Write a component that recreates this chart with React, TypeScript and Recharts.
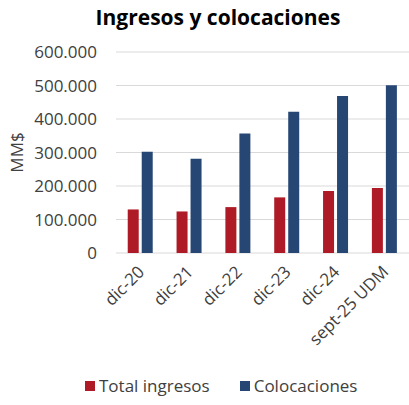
import React from "react";
import { BarChart, Bar, XAxis, YAxis, CartesianGrid, Legend } from "recharts";

const periods = ["dic-20", "dic-21", "dic-22", "dic-23", "dic-24", "sept-25 UDM"];
const totalIngresos = [130000, 124000, 137000, 166000, 185000, 194000];
const colocaciones = [302000, 281000, 357000, 422000, 469000, 501000];
const yTicks = [0, 100000, 200000, 300000, 400000, 500000, 600000];
const seriesNames = ["Total ingresos", "Colocaciones"];

const data = periods.map((p, i) => ({
  period: p,
  ingresos: totalIngresos[i],
  colocaciones: colocaciones[i],
}));

const FONT = "'Open Sans', sans-serif";
const RED = "#AE1A26";
const BLUE = "#264674";
const TEXT = "#404040";

const fmt = (v: number) => v.toLocaleString("de-DE");

function XTick({ x, y, payload }: any) {
  return (
    <g transform={`translate(${x + 5},${y + 12})`}>
      <text
        textAnchor="end"
        transform="rotate(-45)"
        fill={TEXT}
        fontSize={17}
        fontFamily={FONT}
      >
        {payload.value}
      </text>
    </g>
  );
}

function YLabel({ viewBox }: any) {
  const cy = viewBox.y + viewBox.height / 2;
  return (
    <text
      x={16}
      y={cy}
      transform={`rotate(-90, 16, ${cy})`}
      textAnchor="middle"
      dominantBaseline="central"
      fill={TEXT}
      fontSize={17}
      fontFamily={FONT}
    >
      MM$
    </text>
  );
}

function LegendContent({ payload }: any) {
  const items = seriesNames
    .map((n) => (payload || []).find((p: any) => p.value === n))
    .filter(Boolean);
  return (
    <div style={{ display: "flex", gap: 30, fontFamily: FONT, fontSize: 17, color: TEXT }}>
      {items.map((item: any) => (
        <div key={item.value} style={{ display: "flex", alignItems: "center", gap: 4 }}>
          <span style={{ width: 10, height: 10, background: item.color, display: "inline-block" }} />
          <span>{item.value}</span>
        </div>
      ))}
    </div>
  );
}

export default function App() {
  return (
    <div style={{ position: "absolute", left: 0, top: 0, width: 409, height: 405, background: "#fff" }}>
      <div
        style={{
          position: "absolute",
          left: 0,
          width: 436,
          top: 3,
          textAlign: "center",
          fontFamily: FONT,
          fontWeight: 700,
          fontSize: 21,
          color: "#000",
        }}
      >
        Ingresos y colocaciones
      </div>
      <BarChart
        width={409}
        height={405}
        data={data}
        margin={{ top: 52, right: 0, left: 0, bottom: 8 }}
        barCategoryGap="24%"
        barGap={3}
      >
        <CartesianGrid vertical={false} stroke="#d9d9d9" />
        <XAxis
          dataKey="period"
          axisLine={false}
          tickLine={false}
          interval={0}
          height={121}
          tick={<XTick />}
        />
        <YAxis
          width={116}
          domain={[0, 600000]}
          ticks={yTicks}
          tickFormatter={fmt}
          axisLine={false}
          tickLine={false}
          tickSize={0}
          tickMargin={19}
          tick={{ fill: TEXT, fontSize: 17, fontFamily: FONT }}
          label={<YLabel />}
        />
        <Legend
          verticalAlign="bottom"
          content={<LegendContent />}
          wrapperStyle={{ left: 85, width: "auto" }}
        />
        <Bar dataKey="ingresos" name="Total ingresos" fill={RED} isAnimationActive={false} />
        <Bar dataKey="colocaciones" name="Colocaciones" fill={BLUE} isAnimationActive={false} />
      </BarChart>
    </div>
  );
}
